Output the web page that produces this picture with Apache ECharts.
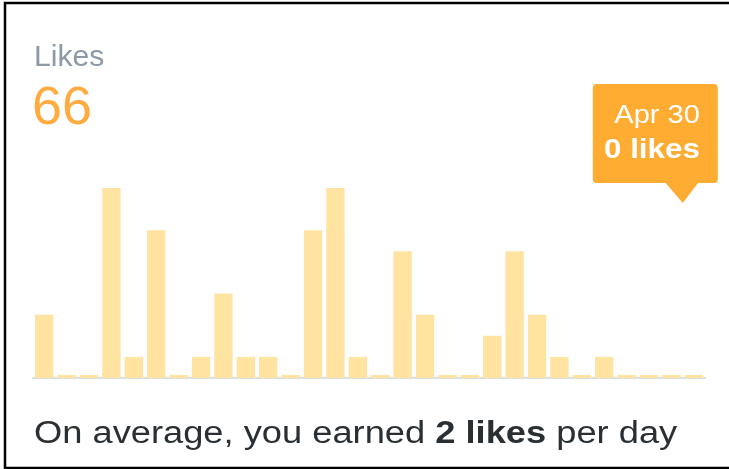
<!DOCTYPE html>
<html>
<head>
<meta charset="utf-8">
<script src="https://cdn.jsdelivr.net/npm/echarts@6/dist/echarts.min.js"></script>
<style>
  html, body { margin: 0; padding: 0; background: #fff; overflow: hidden; }
  #chart { width: 729px; height: 469px; }
</style>
</head>
<body>
<div id="chart"></div>
<script>
// April, one bar per day
var days = [];
for (var d = 1; d <= 30; d++) days.push('Apr ' + d);
var likes = [3, 0, 0, 9, 1, 7, 0, 1, 4, 1,
             1, 0, 7, 9, 1, 0, 6, 3, 0, 0,
             2, 6, 3, 1, 0, 1, 0, 0, 0, 0];
var yMax = 9;

var total = likes.reduce(function (a, b) { return a + b; }, 0);
var avg = Math.round(total / likes.length);
var lastIdx = likes.length - 1;

var font = '"Liberation Sans", Arial, sans-serif';
var myChart = echarts.init(document.getElementById('chart'));

myChart.setOption({
    animation: false,
    grid: { left: 33, right: 24, top: 188, bottom: 91 },
    xAxis: {
        type: 'category',
        data: days,
        axisLine: { lineStyle: { color: '#dedede', width: 2 } },
        axisTick: { show: false },
        axisLabel: { show: false }
    },
    yAxis: {
        type: 'value',
        min: 0,
        max: yMax,
        show: false,
        splitLine: { show: false }
    },
    series: [{
        type: 'bar',
        data: likes,
        barCategoryGap: '18%',
        barMinHeight: 3,
        itemStyle: { color: '#ffe3a0' }
    }]
});

// tooltip-like callout over the last day, placed from the axis scales
var tip = myChart.convertToPixel({ gridIndex: 0 }, [days[lastIdx], yMax]);
var tipX = tip[0] - 11, tipY = tip[1] + 15;
var boxR = tipX + 35, boxW = 125, boxH = 99, boxB = tipY - 20;

myChart.setOption({
    graphic: [
        {
            // frame: open on the right side
            type: 'polyline', silent: true,
            shape: { points: [[760, 3], [5, 3], [5, 468], [760, 468]] },
            style: { fill: 'none', stroke: '#000', lineWidth: 2.5 }
        },
        {
            type: 'text', x: 34, y: 43, scaleX: 1.04,
            style: { text: 'Likes', fill: '#8d9aa6', font: '29px ' + font, verticalAlign: 'top' }
        },
        {
            type: 'text', x: 32, y: 82,
            style: { text: String(total), fill: '#ffab40', font: '54px ' + font, verticalAlign: 'top' }
        },
        {
            type: 'text', x: 34, y: 419, scaleX: 1.17,
            style: {
                text: '{n|On average, you earned }{b|' + avg + ' likes}{n| per day}',
                verticalAlign: 'top',
                rich: {
                    n: { fill: '#292f33', font: '31px ' + font },
                    b: { fill: '#292f33', font: 'bold 31px ' + font }
                }
            }
        },
        {
            type: 'rect', silent: true,
            shape: { x: boxR - boxW, y: boxB - boxH, width: boxW, height: boxH, r: 4 },
            style: { fill: '#ffac33' }
        },
        {
            type: 'polygon', silent: true,
            shape: { points: [[tipX - 18, boxB - 1], [tipX + 16, boxB - 1], [tipX, tipY]] },
            style: { fill: '#ffac33' }
        },
        {
            type: 'text',
            x: boxR - 18, y: boxB - 79, scaleX: 1.16,
            style: {
                text: days[lastIdx], fill: '#fff', align: 'right', verticalAlign: 'top',
                font: '25px ' + font
            }
        },
        {
            type: 'text',
            x: boxR - 18, y: boxB - 46, scaleX: 1.16,
            style: {
                text: likes[lastIdx] + ' likes', fill: '#fff', align: 'right', verticalAlign: 'top',
                font: 'bold 27px ' + font
            }
        }
    ]
});
</script>
</body>
</html>
